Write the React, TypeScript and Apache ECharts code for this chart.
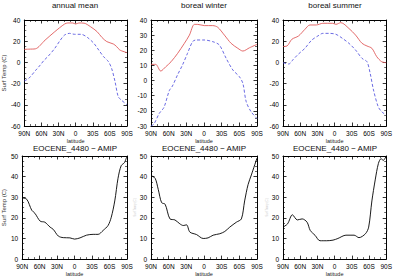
import React, { useEffect, useRef } from "react";
import * as echarts from "echarts";

// Zonal-mean surface temperature (°C) by latitude, positive = north
const annualRedLat = [90, 82, 70.6, 53.6, 36.5, 19.4, 13.7, 5, 0, -5.7, -14.8, -26, -37.6, -46, -54.6, -66, -71.7, -77.4, -90];
const annualRed = [12.3, 12.5, 12.8, 21, 29, 36.2, 37.2, 37.2, 36.2, 37.2, 37, 33.7, 29, 23.6, 19.6, 17.4, 15, 11.7, 9.2];
const annualBlueLat = [90, 82, 70.6, 62, 56, 47.9, 36.5, 27.9, 19.4, 10.8, 2, -9.4, -20.5, -31.9, -40.4, -49, -57.5, -63, -69, -74.6, -80, -90];
const annualBlue = [-17.5, -15, -7.8, -2.5, 1.6, 6, 13.3, 20.2, 25.8, 27.4, 26.5, 26.5, 23.6, 18, 11.7, 5.4, 0.7, -5.6, -18, -32.3, -35.5, -40];

const winterRedLat = [90, 82, 73.5, 65, 56, 44.7, 33.3, 24.8, 16.3, 10.6, -0.6, -14.8, -23.3, -34.7, -46, -57.5, -66, -77.4, -90];
const winterRed = [10.7, 10.7, 6.3, 9.1, 12.4, 18, 24.6, 30, 37.1, 37.1, 36.3, 36.3, 35.2, 30, 24.6, 21.3, 19.5, 21.7, 23.9];
const winterBlueLat = [90, 85, 76, 68, 59, 53.6, 45, 36.5, 28, 19.4, 13.7, 0, -14.8, -26, -37.6, -49, -60, -66, -71.7, -80, -90];
const winterBlue = [-30, -28.7, -21.7, -17.7, -6.7, -3.6, 3.7, 10.3, 18, 25.7, 26.8, 26.8, 25.7, 23.5, 14.7, 7, 2.6, -1.8, -14, -20.6, -25];

const summerRedLat = [90, 83, 74.6, 63, 51.8, 43, 32, 20.5, 3.4, -2.3, -10.8, -25, -36.5, -47.8, -56.4, -65, -73.5, -82, -90];
const summerRed = [15, 15.5, 21.8, 24.9, 31.2, 35.3, 35.3, 36.9, 36.9, 35.9, 37.5, 32, 25.8, 18, 15.5, 13.3, 5.4, 0.7, -0.3];
const summerBlueLat = [90, 80, 72, 63, 51.8, 40, 29, 20.5, 9, -2.3, -13.6, -25, -36.5, -47.8, -56.4, -62, -67.8, -76, -82, -90];
const summerBlue = [-0.3, -1.5, 2.9, 7.9, 13.3, 21, 25, 27.4, 27.4, 26.5, 22.7, 18, 11.7, 3.8, 0.7, -10.3, -26, -41.8, -46.5, -49.6];

// Difference EOCENE_4480 minus AMIP
const annualDiffLat = [90, 82, 73.5, 68, 59, 51, 42, 36.5, 28, 19.4, 8, 0, -9.4, -20.5, -31.9, -40.4, -49, -57.5, -63, -69, -74.6, -80, -85.6, -90];
const annualDiff = [29.7, 29, 23.7, 22.2, 18.4, 17.9, 15.5, 14.4, 11.2, 10.4, 10.3, 9.7, 10.3, 11.6, 12, 12, 13.9, 16.3, 20.3, 28.2, 39.2, 45.3, 46.8, 50];
const winterDiffLat = [90, 83, 77.6, 72, 66, 57.8, 49.4, 41, 35.3, 29.6, 24, 12.7, 1.4, -7, -15.5, -26.8, -35.3, -43.7, -55, -63.5, -69, -74.8, -80.4, -90];
const winterDiff = [40.5, 39.2, 33.7, 27.4, 26.6, 19.5, 19, 17.1, 16.3, 16.6, 13.1, 11.9, 10, 10.3, 11.6, 12.3, 13.4, 15.5, 17.9, 19.5, 28.2, 36.1, 40.8, 49];
const summerDiffLat = [90, 82, 73.6, 65, 56.6, 48, 42.5, 34, 25.5, 14, 2.8, -5.7, -19.8, -34, -42.5, -53.8, -59.4, -65, -70.8, -76.4, -81, -85, -90];
const summerDiff = [15.5, 17.1, 21.5, 19, 19.5, 17.9, 13.9, 11.5, 8.9, 8.9, 9.2, 10, 11.6, 11.6, 10.4, 12.3, 15.5, 28.2, 38.4, 46.4, 48.7, 47.9, 50];

const xTicks = [90, 60, 30, 0, -30, -60, -90];
const panelTitles = ["annual mean", "boreal winter", "boreal summer"];
const diffTitle = "EOCENE_4480 \u2212 AMIP";
const yName = "Surf Temp (C)";

const RED = "#e05a5a";
const BLUE = "#5a5ae0";
const FONT = "Liberation Sans";

const zip = (lat: number[], v: number[]) => lat.map((l, i) => [l, v[i]]);
const latLabel = (v: number) => (v > 0 ? `${v}N` : v < 0 ? `${-v}S` : "0");

export default function App() {
  const ref = useRef<HTMLDivElement>(null);

  useEffect(() => {
    if (!ref.current) return;
    const chart = echarts.init(ref.current, null, { renderer: "svg" });

    const grids = [
      { left: 22, top: 20, width: 105, height: 106 },
      { left: 151, top: 20, width: 106, height: 106 },
      { left: 283, top: 20, width: 105, height: 106 },
      { left: 22, top: 156, width: 105, height: 105 },
      { left: 151, top: 156, width: 106, height: 105 },
      { left: 283, top: 156, width: 105, height: 105 },
    ];
    const yRanges = [
      { min: -60, max: 40, interval: 20 },
      { min: -30, max: 40, interval: 10 },
      { min: -60, max: 40, interval: 20 },
      { min: 0, max: 50, interval: 10 },
      { min: 0, max: 50, interval: 10 },
      { min: 0, max: 50, interval: 10 },
    ];
    const yNames = [
      { text: yName, size: 6, color: "#333" },
      null,
      null,
      { text: yName, size: 6, color: "#333" },
      { text: yName, size: 3, color: "#ccc" },
      { text: yName, size: 3, color: "#ccc" },
    ];

    const axisLine = { show: true, onZero: false, lineStyle: { color: "#000", width: 1 } };
    const tick = { show: true, inside: true, length: 3.5, lineStyle: { color: "#000", width: 0.8 } };
    const minor = { show: true, length: 2, splitNumber: 3, lineStyle: { color: "#000", width: 0.6 } };
    const yMinor = { ...minor, splitNumber: 4 };

    const xAxis: any[] = [];
    const yAxis: any[] = [];
    grids.forEach((_, i) => {
      const xBase = {
        type: "value",
        gridIndex: i,
        min: -90,
        max: 90,
        interval: 30,
        inverse: true,
        axisLine,
        axisTick: tick,
        minorTick: minor,
        splitLine: { show: false },
      };
      xAxis.push({
        ...xBase,
        position: "bottom",
        name: "latitude",
        nameLocation: "middle",
        nameGap: 10,
        nameTextStyle: { fontFamily: FONT, fontSize: 5.5, color: "#222" },
        axisLabel: {
          fontFamily: FONT,
          fontSize: 6.5,
          color: "#000",
          margin: 4,
          formatter: (v: number) => (xTicks.includes(v) ? latLabel(v) : ""),
        },
      });
      xAxis.push({ ...xBase, position: "top", axisLabel: { show: false } });

      const r = yRanges[i];
      const nm = yNames[i];
      const yBase = {
        type: "value",
        gridIndex: i,
        min: r.min,
        max: r.max,
        interval: r.interval,
        axisLine,
        axisTick: tick,
        minorTick: yMinor,
        splitLine: { show: false },
      };
      yAxis.push({
        ...yBase,
        position: "left",
        name: nm ? nm.text : "",
        nameLocation: "middle",
        nameGap: 14,
        nameRotate: 90,
        nameTextStyle: { fontFamily: FONT, fontSize: nm ? nm.size : 6, color: nm ? nm.color : "#333" },
        axisLabel: { fontFamily: FONT, fontSize: 6.5, color: "#000", margin: 4 },
      });
      yAxis.push({ ...yBase, position: "right", axisLabel: { show: false } });
    });

    const line = (idx: number, data: number[][], color: string, dashed = false) => ({
      type: "line",
      xAxisIndex: idx * 2,
      yAxisIndex: idx * 2,
      data,
      showSymbol: false,
      smooth: 0.3,
      lineStyle: { color, width: 0.9, type: dashed ? [3, 2] : "solid" },
    });

    const series = [
      line(0, zip(annualRedLat, annualRed), RED),
      line(0, zip(annualBlueLat, annualBlue), BLUE, true),
      line(1, zip(winterRedLat, winterRed), RED),
      line(1, zip(winterBlueLat, winterBlue), BLUE, true),
      line(2, zip(summerRedLat, summerRed), RED),
      line(2, zip(summerBlueLat, summerBlue), BLUE, true),
      line(3, zip(annualDiffLat, annualDiff), "#000"),
      line(4, zip(winterDiffLat, winterDiff), "#000"),
      line(5, zip(summerDiffLat, summerDiff), "#000"),
    ];

    // Panel headings drawn as plain text so descenders are not clipped
    const titleCenters = [75, 204, 335];
    const graphic: any[] = [];
    titleCenters.forEach((cx, i) => {
      graphic.push({
        type: "text",
        x: cx,
        y: 5,
        style: {
          text: panelTitles[i],
          fontFamily: FONT,
          fontSize: 8,
          fill: "#111",
          align: "center",
          verticalAlign: "middle",
        },
      });
      graphic.push({
        type: "text",
        x: cx,
        y: 148,
        style: {
          text: diffTitle,
          fontFamily: FONT,
          fontSize: 8,
          fill: "#111",
          align: "center",
          verticalAlign: "middle",
        },
      });
    });

    chart.setOption({
      animation: false,
      backgroundColor: "#fff",
      graphic,
      grid: grids,
      xAxis,
      yAxis,
      series,
    });

    return () => chart.dispose();
  }, []);

  return <div ref={ref} style={{ width: 395, height: 278, position: "absolute", left: 0, top: 0 }} />;
}
